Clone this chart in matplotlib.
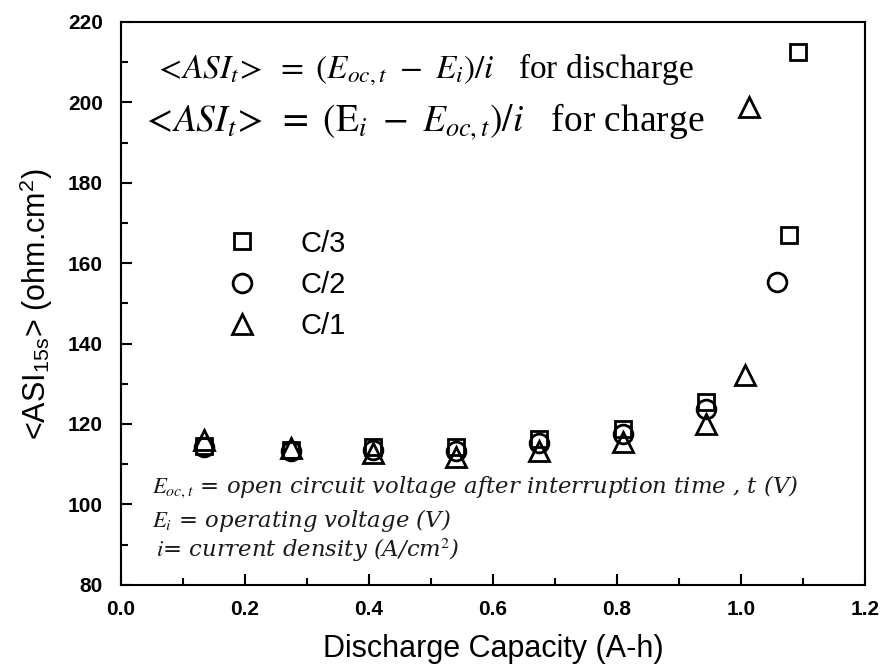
import matplotlib
matplotlib.use('Agg')
import matplotlib.pyplot as plt
from matplotlib.ticker import MultipleLocator

plt.rcParams['font.family'] = ['Liberation Sans', 'DejaVu Sans']
plt.rcParams['mathtext.fontset'] = 'stix'

# data
x_c3 = [0.134, 0.274, 0.406, 0.540, 0.674, 0.810, 0.944, 1.077, 1.092]
y_c3 = [114.5, 113.5, 114.2, 114.3, 116.3, 118.8, 125.5, 167.0, 212.5]
x_c2 = [0.134, 0.274, 0.406, 0.540, 0.674, 0.810, 0.944, 1.058]
y_c2 = [114.2, 113.3, 113.5, 113.2, 115.2, 117.6, 123.8, 155.3]
x_c1 = [0.134, 0.274, 0.406, 0.540, 0.674, 0.810, 0.944, 1.006, 1.013]
y_c1 = [116.0, 114.0, 112.8, 111.9, 113.3, 115.5, 120.0, 132.2, 198.9]
labels = ['C/3', 'C/2', 'C/1']

fig = plt.figure(figsize=(8.82, 6.66), dpi=100)
ax = fig.add_axes([0.137, 0.122, 0.844, 0.845])

kw = dict(linestyle='none', markerfacecolor='none', markeredgecolor='black', markeredgewidth=2)
ax.plot(x_c3, y_c3, marker='s', markersize=12, label=labels[0], **kw)
ax.plot(x_c2, y_c2, marker='o', markersize=13.5, label=labels[1], **kw)
ax.plot(x_c1, y_c1, marker='^', markersize=14.5, label=labels[2], **kw)

ax.set_xlim(0, 1.2)
ax.set_ylim(80, 220)
ax.xaxis.set_major_locator(MultipleLocator(0.2))
ax.xaxis.set_minor_locator(MultipleLocator(0.1))
ax.yaxis.set_major_locator(MultipleLocator(20))
ax.yaxis.set_minor_locator(MultipleLocator(10))
ax.xaxis.set_major_formatter(plt.FuncFormatter(lambda v, p: f'{v:.1f}'))
ax.tick_params(which='both', direction='in', top=False, right=False, width=1.5)
ax.tick_params(which='major', length=8, labelsize=15)
ax.tick_params(axis='x', which='major', pad=11)
ax.tick_params(axis='y', which='major', pad=13)
ax.tick_params(which='minor', length=5)
for lab in ax.get_xticklabels() + ax.get_yticklabels():
    lab.set_fontweight('bold')
for s in ax.spines.values():
    s.set_linewidth(1.5)

ax.set_xlabel('Discharge Capacity (A-h)', fontsize=22, labelpad=11)
ax.set_ylabel(r'<ASI$_{\mathregular{15s}}$> (ohm.cm$^{\mathregular{2}}$)', fontsize=22, labelpad=9)

ax.legend(loc='upper left', bbox_to_anchor=(0.124, 0.657), frameon=False, fontsize=21,
          borderpad=0, handletextpad=1.5, labelspacing=0.45, handlelength=1.0)

serif = ['Liberation Serif', 'DejaVu Serif']
ax.text(0.045, 0.9, r'$<\!ASI_t\!>\ =\ (E_{oc,t}\ -\ E_i)/i$   for discharge',
        transform=ax.transAxes, fontsize=24, family=serif)
ax.text(0.027, 0.805, r'$<\!ASI_t\!>\ =\ (\mathrm{E}_i\ -\ E_{oc,t})/i$   for charge',
        transform=ax.transAxes, fontsize=27, family=serif)

note_color = '#1a1a1a'
note = dict(transform=ax.transAxes, fontsize=16.4, color=note_color,
            family='DejaVu Serif', style='italic')
ax.text(0.042, 0.163, r'$E_{oc,t}$ = open circuit voltage after interruption time , t (V)', **note)
ax.text(0.042, 0.103, r'$E_i$ = operating voltage (V)', **note)
ax.text(0.047, 0.05, r'$i$= current density (A/cm$^2$)', **note)

fig.savefig('out.png', dpi=100)
